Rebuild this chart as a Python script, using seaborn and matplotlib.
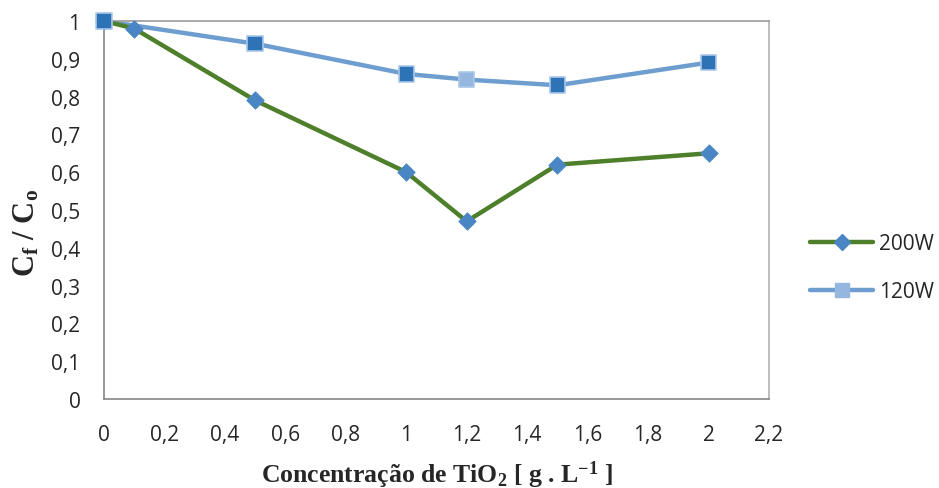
import matplotlib
matplotlib.use("Agg")
import matplotlib.pyplot as plt
import seaborn as sns
import pandas as pd
from matplotlib.lines import Line2D

x200 = [0, 0.1, 0.5, 1.0, 1.2, 1.5, 2.0]
y200 = [1.0, 0.98, 0.79, 0.60, 0.47, 0.62, 0.65]
x120 = [0, 0.5, 1.0, 1.2, 1.5, 2.0]
y120 = [1.0, 0.94, 0.86, 0.845, 0.83, 0.89]
xticks = [0, 0.2, 0.4, 0.6, 0.8, 1.0, 1.2, 1.4, 1.6, 1.8, 2.0, 2.2]
yticks = [0, 0.1, 0.2, 0.3, 0.4, 0.5, 0.6, 0.7, 0.8, 0.9, 1.0]

sns.set_style("white")
plt.rcParams['font.family'] = ['Open Sans', 'DejaVu Sans']
plt.rcParams['mathtext.fontset'] = 'custom'
plt.rcParams['mathtext.rm'] = 'Liberation Serif:bold'
plt.rcParams['mathtext.bf'] = 'Liberation Serif:bold'
plt.rcParams['mathtext.it'] = 'Liberation Serif:bold'

green = '#4E7F2B'
diamond = '#4A86C4'
blue_line = '#6E9DD0'
sq_dark = '#2E73B5'
sq_light = '#95B6DE'
sq_edge = '#A9C8EA'

fig = plt.figure(figsize=(9.39, 4.89), dpi=100)
ax = fig.add_axes([104/939, 89/489, 665/939, 378/489])

d200 = pd.DataFrame({'x': x200, 'y': y200})
d120 = pd.DataFrame({'x': x120, 'y': y120})

sns.lineplot(data=d120, x='x', y='y', ax=ax, color=blue_line, lw=3.2, zorder=2)
sns.lineplot(data=d200, x='x', y='y', ax=ax, color=green, lw=3.2, zorder=3)
sns.scatterplot(data=d200, x='x', y='y', ax=ax, marker='D', s=80, color=diamond,
                edgecolor=diamond, linewidth=0.5, zorder=4, clip_on=False)
sq_colors = [sq_light if xv == 1.2 else sq_dark for xv in x120]
ax.scatter(d120['x'], d120['y'], marker='s', s=125, c=sq_colors,
           edgecolors=sq_edge, linewidths=1.2, zorder=5, clip_on=False)

ax.set_xlim(0, 2.2)
ax.set_ylim(0, 1)
ax.set_xticks(xticks)
ax.set_yticks(yticks)
fmt = lambda v: ('%g' % v).replace('.', ',')
ax.set_xticklabels([fmt(v) for v in xticks], fontsize=15)
ax.set_yticklabels([fmt(v) for v in yticks], fontsize=15)
ax.tick_params(axis='both', direction='out', length=7, width=1, color='#868686', pad=10)
ax.tick_params(axis='x', pad=11)
for s in ['left', 'bottom', 'top', 'right']:
    ax.spines[s].set_color('#868686')
    ax.spines[s].set_linewidth(1.2)
ax.spines['top'].set_color('#9a9a9a')
ax.spines['right'].set_color('#b0b0b0')

ax.set_xlabel(r'Concentração de TiO$_2$ [ g . L$^{-1}$ ]', family='Liberation Serif',
              fontweight='bold', fontsize=18.5)
ax.set_ylabel(r'C$_\mathregular{f}$ / C$_\mathregular{o}$', family='Liberation Serif',
              fontweight='bold', fontsize=22)
ax.xaxis.set_label_coords((437 - 104) / 665, -(475 - 400) / 378)
ax.yaxis.set_label_coords(-(104 - 27) / 665, (400 - 233) / 378)
ax.xaxis.label.set_va('center')
ax.yaxis.label.set_va('center')

handles = [
    Line2D([0], [0], color=green, lw=3.2, marker='D', markersize=8,
           markerfacecolor=diamond, markeredgecolor=diamond),
    Line2D([0], [0], color=blue_line, lw=3.2, marker='s', markersize=10,
           markerfacecolor=sq_light, markeredgecolor=sq_light),
]
fig.legend(handles, ['200W', '120W'], loc='center left', bbox_to_anchor=(0.843, 0.45),
           frameon=False, fontsize=15, handlelength=3.0, labelspacing=1.3, handletextpad=0.3)

fig.savefig('out.png', dpi=100)
